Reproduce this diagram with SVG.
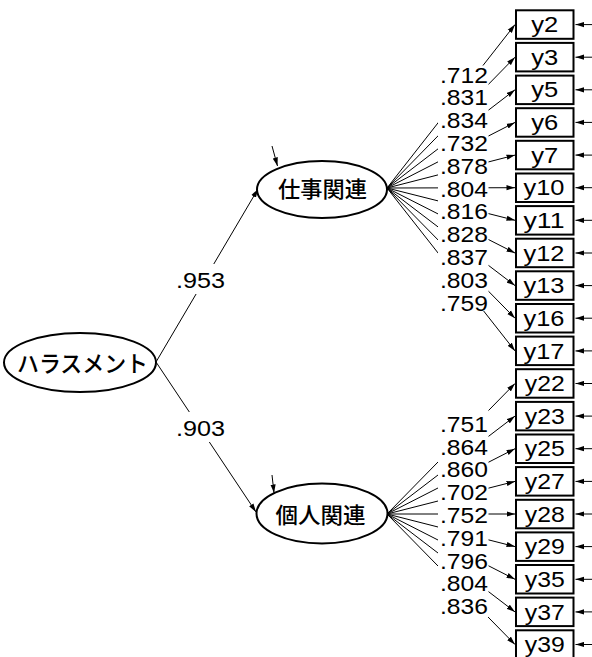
<svg xmlns="http://www.w3.org/2000/svg" width="592" height="657" viewBox="0 0 592 657">
<defs>
<marker id="ah" markerUnits="userSpaceOnUse" markerWidth="9" markerHeight="6" refX="8.5" refY="3" orient="auto"><path d="M0,0.4 L8.5,3 L0,5.6 z" fill="#000"/></marker>
</defs>
<style>
.ln{stroke:#000;stroke-width:1;fill:none;marker-end:url(#ah)}
.box{fill:#fff;stroke:#000;stroke-width:2}
.ell{fill:#fff;stroke:#000;stroke-width:2}
.lbl{font-family:"Liberation Sans",Arial,sans-serif;font-size:21.5px;fill:#000}
.bt{font-family:"Liberation Sans",Arial,sans-serif;font-size:22px;fill:#000;text-anchor:middle}
.jp{font-family:"Noto Sans CJK JP",sans-serif;font-size:22px;font-weight:500;fill:#000;text-anchor:middle}
.bg{fill:#fff;stroke:none}
</style>
<rect width="592" height="657" fill="#fff"/>
<g id="connectors">
<path class="ln" d="M156,362 L258,189"/>
<path class="ln" d="M156,362 L256,512"/>
<path class="ln" d="M272,146 L277.5,166"/>
<path class="ln" d="M272,475 L274,493"/>
<path class="ln" d="M387,188 L515,24.6"/>
<path class="ln" d="M387,188 L515,57.2"/>
<path class="ln" d="M387,188 L515,89.8"/>
<path class="ln" d="M387,188 L515,122.4"/>
<path class="ln" d="M387,188 L515,155.1"/>
<path class="ln" d="M387,188 L515,187.7"/>
<path class="ln" d="M387,188 L515,220.3"/>
<path class="ln" d="M387,188 L515,253"/>
<path class="ln" d="M387,188 L515,285.6"/>
<path class="ln" d="M387,188 L515,318.2"/>
<path class="ln" d="M387,188 L515,350.9"/>
<path class="ln" d="M387,514 L515,383.5"/>
<path class="ln" d="M387,514 L515,416.1"/>
<path class="ln" d="M387,514 L515,448.7"/>
<path class="ln" d="M387,514 L515,481.4"/>
<path class="ln" d="M387,514 L515,514"/>
<path class="ln" d="M387,514 L515,546.6"/>
<path class="ln" d="M387,514 L515,579.3"/>
<path class="ln" d="M387,514 L515,611.9"/>
<path class="ln" d="M387,514 L515,644.5"/>
<path class="ln" d="M592,24.6 L575.5,24.6"/>
<path class="ln" d="M592,57.2 L575.5,57.2"/>
<path class="ln" d="M592,89.8 L575.5,89.8"/>
<path class="ln" d="M592,122.4 L575.5,122.4"/>
<path class="ln" d="M592,155.1 L575.5,155.1"/>
<path class="ln" d="M592,187.7 L575.5,187.7"/>
<path class="ln" d="M592,220.3 L575.5,220.3"/>
<path class="ln" d="M592,253 L575.5,253"/>
<path class="ln" d="M592,285.6 L575.5,285.6"/>
<path class="ln" d="M592,318.2 L575.5,318.2"/>
<path class="ln" d="M592,350.9 L575.5,350.9"/>
<path class="ln" d="M592,383.5 L575.5,383.5"/>
<path class="ln" d="M592,416.1 L575.5,416.1"/>
<path class="ln" d="M592,448.7 L575.5,448.7"/>
<path class="ln" d="M592,481.4 L575.5,481.4"/>
<path class="ln" d="M592,514 L575.5,514"/>
<path class="ln" d="M592,546.6 L575.5,546.6"/>
<path class="ln" d="M592,579.3 L575.5,579.3"/>
<path class="ln" d="M592,611.9 L575.5,611.9"/>
<path class="ln" d="M592,644.5 L575.5,644.5"/>
</g>
<g id="path-labels">
<rect class="bg" x="172" y="264" width="57" height="30"/>
<text class="lbl" x="176" y="288" textLength="49" lengthAdjust="spacingAndGlyphs">.953</text>
<rect class="bg" x="172" y="412" width="57" height="30"/>
<text class="lbl" x="176" y="436" textLength="49" lengthAdjust="spacingAndGlyphs">.903</text>
<rect class="bg" x="438" y="65.5" width="50.5" height="245.5"/>
<rect class="bg" x="438" y="410" width="50.5" height="207"/>
<g class="lbl">
<text x="440" y="82.5" textLength="48" lengthAdjust="spacingAndGlyphs">.712</text>
<text x="440" y="105.3" textLength="48" lengthAdjust="spacingAndGlyphs">.831</text>
<text x="440" y="128.1" textLength="48" lengthAdjust="spacingAndGlyphs">.834</text>
<text x="440" y="150.9" textLength="48" lengthAdjust="spacingAndGlyphs">.732</text>
<text x="440" y="173.7" textLength="48" lengthAdjust="spacingAndGlyphs">.878</text>
<text x="440" y="196.5" textLength="48" lengthAdjust="spacingAndGlyphs">.804</text>
<text x="440" y="219.3" textLength="48" lengthAdjust="spacingAndGlyphs">.816</text>
<text x="440" y="242.1" textLength="48" lengthAdjust="spacingAndGlyphs">.828</text>
<text x="440" y="264.9" textLength="48" lengthAdjust="spacingAndGlyphs">.837</text>
<text x="440" y="287.7" textLength="48" lengthAdjust="spacingAndGlyphs">.803</text>
<text x="440" y="310.5" textLength="48" lengthAdjust="spacingAndGlyphs">.759</text>
<text x="440" y="431.7" textLength="48" lengthAdjust="spacingAndGlyphs">.751</text>
<text x="440" y="454.5" textLength="48" lengthAdjust="spacingAndGlyphs">.864</text>
<text x="440" y="477.3" textLength="48" lengthAdjust="spacingAndGlyphs">.860</text>
<text x="440" y="500.1" textLength="48" lengthAdjust="spacingAndGlyphs">.702</text>
<text x="440" y="522.9" textLength="48" lengthAdjust="spacingAndGlyphs">.752</text>
<text x="440" y="545.7" textLength="48" lengthAdjust="spacingAndGlyphs">.791</text>
<text x="440" y="568.5" textLength="48" lengthAdjust="spacingAndGlyphs">.796</text>
<text x="440" y="591.3" textLength="48" lengthAdjust="spacingAndGlyphs">.804</text>
<text x="440" y="614.1" textLength="48" lengthAdjust="spacingAndGlyphs">.836</text>
</g>
</g>
<g id="harassment"><ellipse class="ell" cx="80" cy="362.5" rx="76" ry="29.5"/><text class="jp" x="82.5" y="372" style="font-size:23px" textLength="131" lengthAdjust="spacingAndGlyphs">ハラスメント</text></g>
<g id="work"><ellipse class="ell" cx="322" cy="189.5" rx="65" ry="28.5"/><text class="jp" x="322.5" y="197" textLength="89" lengthAdjust="spacingAndGlyphs">仕事関連</text></g>
<g id="personal"><ellipse class="ell" cx="322" cy="513.5" rx="65.5" ry="30"/><text class="jp" x="320.5" y="523" textLength="90" lengthAdjust="spacingAndGlyphs">個人関連</text></g>
<g id="y2"><rect class="box" x="516" y="10.3" width="57.5" height="28.5"/><text class="bt" x="544.8" y="32.2" textLength="27" lengthAdjust="spacingAndGlyphs">y2</text></g>
<g id="y3"><rect class="box" x="516" y="42.9" width="57.5" height="28.5"/><text class="bt" x="544.8" y="64.8" textLength="27" lengthAdjust="spacingAndGlyphs">y3</text></g>
<g id="y5"><rect class="box" x="516" y="75.6" width="57.5" height="28.5"/><text class="bt" x="544.8" y="97.4" textLength="27" lengthAdjust="spacingAndGlyphs">y5</text></g>
<g id="y6"><rect class="box" x="516" y="108.2" width="57.5" height="28.5"/><text class="bt" x="544.8" y="130" textLength="27" lengthAdjust="spacingAndGlyphs">y6</text></g>
<g id="y7"><rect class="box" x="516" y="140.8" width="57.5" height="28.5"/><text class="bt" x="544.8" y="162.7" textLength="27" lengthAdjust="spacingAndGlyphs">y7</text></g>
<g id="y10"><rect class="box" x="516" y="173.5" width="57.5" height="28.5"/><text class="bt" x="544" y="195.3" textLength="41" lengthAdjust="spacingAndGlyphs">y10</text></g>
<g id="y11"><rect class="box" x="516" y="206.1" width="57.5" height="28.5"/><text class="bt" x="544" y="227.9" textLength="41" lengthAdjust="spacingAndGlyphs">y11</text></g>
<g id="y12"><rect class="box" x="516" y="238.7" width="57.5" height="28.5"/><text class="bt" x="544" y="260.6" textLength="41" lengthAdjust="spacingAndGlyphs">y12</text></g>
<g id="y13"><rect class="box" x="516" y="271.3" width="57.5" height="28.5"/><text class="bt" x="544" y="293.2" textLength="41" lengthAdjust="spacingAndGlyphs">y13</text></g>
<g id="y16"><rect class="box" x="516" y="304" width="57.5" height="28.5"/><text class="bt" x="544" y="325.8" textLength="41" lengthAdjust="spacingAndGlyphs">y16</text></g>
<g id="y17"><rect class="box" x="516" y="336.6" width="57.5" height="28.5"/><text class="bt" x="544" y="358.5" textLength="41" lengthAdjust="spacingAndGlyphs">y17</text></g>
<g id="y22"><rect class="box" x="516" y="369.2" width="57.5" height="28.5"/><text class="bt" x="544.8" y="391.1" textLength="40" lengthAdjust="spacingAndGlyphs">y22</text></g>
<g id="y23"><rect class="box" x="516" y="401.9" width="57.5" height="28.5"/><text class="bt" x="544.8" y="423.7" textLength="40" lengthAdjust="spacingAndGlyphs">y23</text></g>
<g id="y25"><rect class="box" x="516" y="434.5" width="57.5" height="28.5"/><text class="bt" x="544.8" y="456.3" textLength="40" lengthAdjust="spacingAndGlyphs">y25</text></g>
<g id="y27"><rect class="box" x="516" y="467.1" width="57.5" height="28.5"/><text class="bt" x="544.8" y="489" textLength="40" lengthAdjust="spacingAndGlyphs">y27</text></g>
<g id="y28"><rect class="box" x="516" y="499.8" width="57.5" height="28.5"/><text class="bt" x="544.8" y="521.6" textLength="40" lengthAdjust="spacingAndGlyphs">y28</text></g>
<g id="y29"><rect class="box" x="516" y="532.4" width="57.5" height="28.5"/><text class="bt" x="544.8" y="554.2" textLength="40" lengthAdjust="spacingAndGlyphs">y29</text></g>
<g id="y35"><rect class="box" x="516" y="565" width="57.5" height="28.5"/><text class="bt" x="544.8" y="586.9" textLength="40" lengthAdjust="spacingAndGlyphs">y35</text></g>
<g id="y37"><rect class="box" x="516" y="597.6" width="57.5" height="28.5"/><text class="bt" x="544.8" y="619.5" textLength="40" lengthAdjust="spacingAndGlyphs">y37</text></g>
<g id="y39"><rect class="box" x="516" y="630.3" width="57.5" height="28.5"/><text class="bt" x="544.8" y="652.1" textLength="40" lengthAdjust="spacingAndGlyphs">y39</text></g>
</svg>
